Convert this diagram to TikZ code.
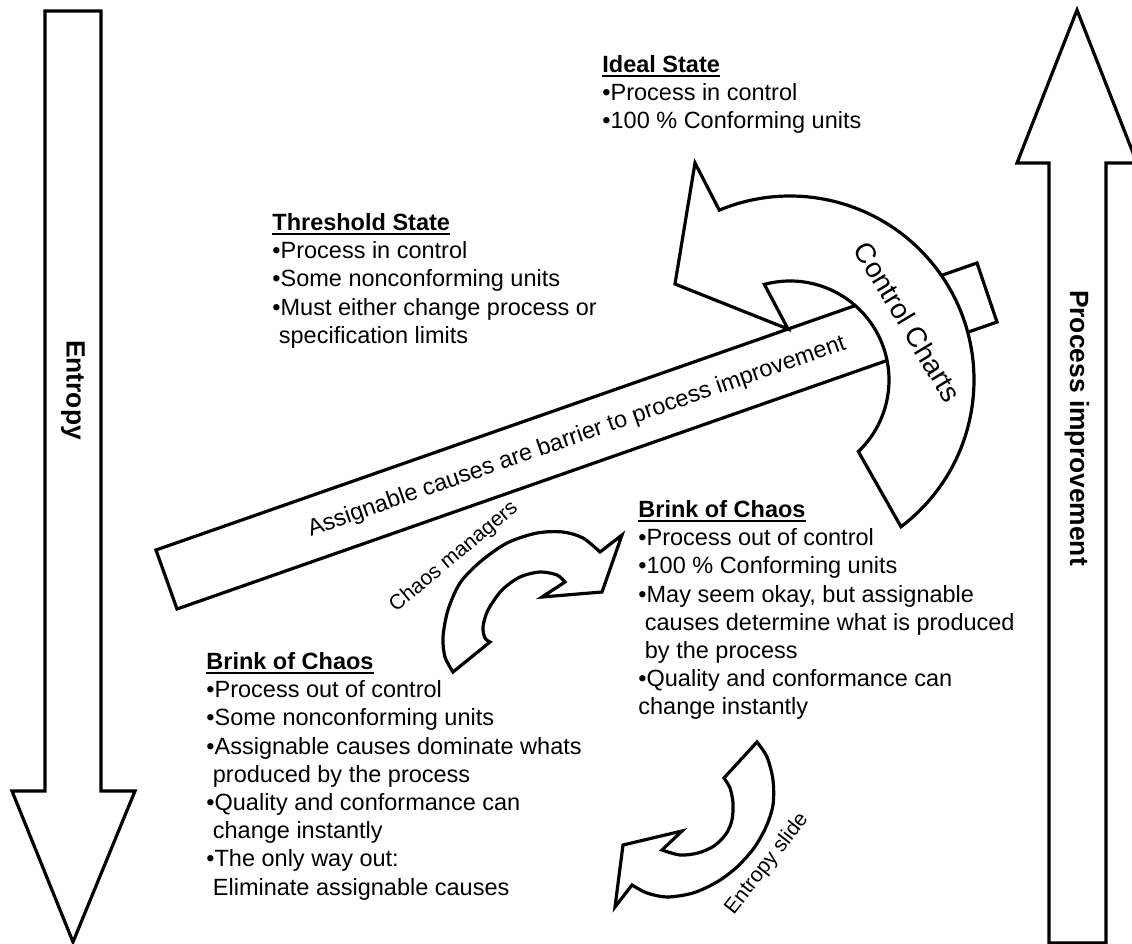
\documentclass[tikz,border=0pt]{standalone}
\usepackage{fontspec}
\setmainfont{Liberation Sans}
\usetikzlibrary{calc}
\tikzset{
  blockarrow/.style={draw,fill=white,line width=1.6pt},
  statetext/.style={align=left,anchor=north west,inner sep=0pt,font=\fontsize{11.75}{14.1}\selectfont},
  bartext/.style={inner sep=0pt,font=\fontsize{11.75}{14.1}\selectfont},
  sidetext/.style={inner sep=0pt,rotate=-90,font=\fontsize{13.2}{15}\selectfont\bfseries},
  slidetext/.style={inner sep=0pt,font=\fontsize{10.5}{12}\selectfont}
}
\newcommand{\statehead}[1]{{\bfseries\setbox0=\hbox{#1}\rlap{\rule[-2.2pt]{\wd0}{0.9pt}}\box0}}

\begin{document}
\begin{tikzpicture}[x=0.5pt,y=-0.5pt]
\useasboundingbox (0,0) rectangle (1132,944);
\coordinate (cc) at (790,380);
% side arrows
\draw[blockarrow] (45,11) -- (101,11) -- (101,791) -- (135,791) -- (73,942) -- (12,791) -- (45,791) -- cycle;
\draw[blockarrow] (1049,943) -- (1049,163) -- (1017,163) -- (1077,10) -- (1137,163) -- (1106,163) -- (1106,943) -- cycle;
\node[sidetext] (entropy) at (73,390) {Entropy};
\node[sidetext] (improve) at (1077,428) {Process improvement};
% barrier and control charts
\draw[blockarrow] (156,550) -- (977,263) -- (997,322) -- (177,609) -- cycle;
\draw[blockarrow] ($(cc)+(52.9:184)$) arc[start angle=52.9,end angle=-112.6,radius=184]
  -- (695,163) -- (675,284) -- (788,329) -- ($(cc)+(-105:99)$)
  arc[start angle=-105,end angle=46.3,radius=99] -- cycle;
\node[bartext,rotate=19.27] (barrier) at (577,437) {Assignable causes are barrier to process improvement};
\node[inner sep=0pt,rotate=-58.8,font=\fontsize{14}{16}\selectfont] (ctrl) at (908,322) {Control Charts};
% small arrows
\draw[blockarrow] plot[smooth] coordinates {(453,672) (445,657) (443,637) (448,610) (460,583) (480,562) (507,543) (537,533) (563,532) (583,538) (600,552)}
  -- (622,535) -- (602,592) -- (542,597)
  -- plot[smooth] coordinates {(565,582) (557,575) (540,572) (520,577) (502,590) (488,610) (483,627) (485,638) (490,642)} -- cycle;
\draw[blockarrow] plot[smooth] coordinates {(757,742) (767,757) (773,780) (773,805) (766,827) (754,848) (737,867) (717,882) (693,893) (667,897) (647,893) (632,885)}
  -- (615,907) -- (623,845) -- (682,831)
  -- plot[smooth] coordinates {(662,850) (680,855) (698,853) (714,846) (726,834) (732,820) (733,803) (730,788) (724,778)} -- cycle;
\node[slidetext,rotate=40] (chaosmgr) at (454,557) {Chaos managers};
\node[slidetext,rotate=52] (slide) at (767,864) {Entropy slide};
% state texts
\node[statetext] (ideal) at (602,55) {\statehead{Ideal State}\\•Process in control\\•100 \% Conforming units};
\node[statetext] (threshold) at (272,213) {\statehead{Threshold State}\\•Process in control\\•Some nonconforming units\\•Must either change process or\\\ specification limits};
\node[statetext] (brinkright) at (638,500) {\statehead{Brink of Chaos}\\•Process out of control\\•100 \% Conforming units\\•May seem okay, but assignable\\\ causes determine what is produced\\\ by the process\\•Quality and conformance can\\change instantly};
\node[statetext] (brinkleft) at (206,652) {\statehead{Brink of Chaos}\\•Process out of control\\•Some nonconforming units\\•Assignable causes dominate whats\\\ produced by the process\\•Quality and conformance can\\\ change instantly\\•The only way out:\\\ Eliminate assignable causes};
\end{tikzpicture}
\end{document}
